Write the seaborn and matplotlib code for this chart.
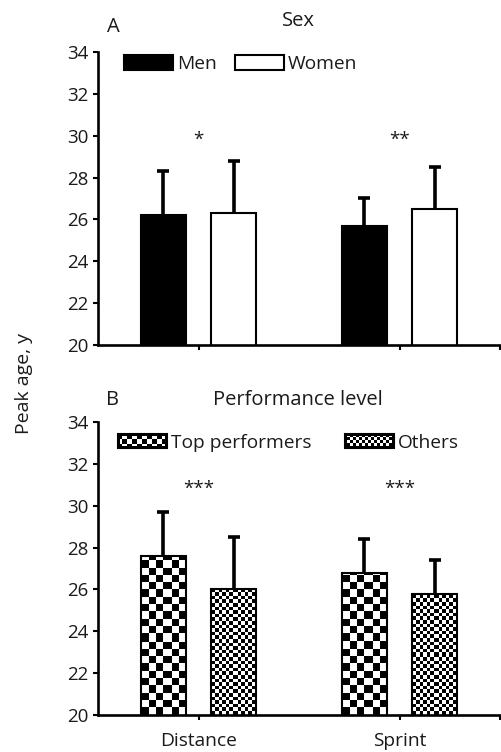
import numpy as np
import pandas as pd
import matplotlib
matplotlib.use("Agg")
import matplotlib.pyplot as plt
from matplotlib.patches import Patch
from matplotlib.container import BarContainer
import seaborn as sns

# ---- data -----------------------------------------------------------------
events = ["Distance", "Sprint"]

men_mean = [26.2, 25.7]
men_sd = [2.1, 1.3]
women_mean = [26.3, 26.5]
women_sd = [2.5, 2.0]

top_mean = [27.6, 26.8]
top_sd = [2.1, 1.6]
others_mean = [26.0, 25.8]
others_sd = [2.5, 1.6]

sex_stars = ["*", "**"]
level_stars = ["***", "***"]

y_ticks = [20, 22, 24, 26, 28, 30, 32, 34]
y_floor = 20

# ---- style ----------------------------------------------------------------
sns.set_style("ticks")
plt.rcParams["font.family"] = ["Open Sans", "DejaVu Sans"]
plt.rcParams["text.color"] = "#1a1a1a"
plt.rcParams["xtick.color"] = "black"
plt.rcParams["ytick.color"] = "black"
plt.rcParams["xtick.labelcolor"] = "#1a1a1a"
plt.rcParams["ytick.labelcolor"] = "#1a1a1a"

FS_TICK = 13.5
FS_LEG = 13.8
FS_TITLE = 14.5

W, H = 501, 752
fig = plt.figure(figsize=(W / 100, H / 100), dpi=100)
fig.patch.set_facecolor("white")

ax_top = fig.add_axes([98 / W, 1 - 345 / H, 402 / W, 293 / H])
ax_bot = fig.add_axes([98 / W, 1 - 715 / H, 402 / W, 293 / H])


def long_frame(groups, means, sds):
    rows = []
    for g, m, s in zip(groups, means, sds):
        for ev, mv, sv in zip(events, m, s):
            rows.append({"event": ev, "group": g, "age": mv, "sd": sv})
    return pd.DataFrame(rows)


def checker(h, w, cell, border=0):
    yy, xx = np.mgrid[0:h, 0:w]
    a = ((np.floor(xx / cell) + np.floor(yy / cell)) % 2).astype(float)
    if border:
        a[:border, :] = 0
        a[-border:, :] = 0
        a[:, :border] = 0
        a[:, -border:] = 0
    return a


def bar_containers(ax):
    return [c for c in ax.containers if isinstance(c, BarContainer)]


def panel(ax, df, groups, palette, stars, star_y, show_labels):
    sns.barplot(data=df, x="event", y="age", hue="group", hue_order=groups,
                order=events, palette=palette, edgecolor="black",
                linewidth=1.5, width=0.7, gap=0.36, errorbar=None,
                legend=False, ax=ax)
    ax.set_xlim(-0.5, 1.5)
    ax.set_ylim(y_floor, 34)
    ax.set_yticks(y_ticks)
    ax.set_xticks([0, 1])
    ax.set_xticks([1.5], minor=True)
    if show_labels:
        ax.set_xticklabels(events)
    else:
        ax.set_xticklabels(["", ""])
    ax.set_xlabel("")
    ax.set_ylabel("")
    for side in ("top", "right"):
        ax.spines[side].set_visible(False)
    for side in ("left", "bottom"):
        ax.spines[side].set_linewidth(1.9)
        ax.spines[side].set_color("black")
    ax.tick_params(axis="y", which="both", direction="out", length=3.6,
                   width=1.5, labelsize=FS_TICK, pad=3.5)
    ax.tick_params(axis="x", which="both", direction="out", length=3.6,
                   width=1.5, labelsize=FS_LEG, pad=9)

    # error bars (upper side only)
    for cont, g in zip(bar_containers(ax), groups):
        sub = df[df["group"] == g].set_index("event").loc[events]
        xs = [b.get_x() + b.get_width() / 2 for b in cont]
        _, caps, _ = ax.errorbar(xs, sub["age"].values,
                                 yerr=[np.zeros(len(xs)), sub["sd"].values],
                                 fmt="none", ecolor="black", elinewidth=2.6,
                                 capsize=4.3, capthick=2.6, zorder=3)
        for c in caps:
            if np.allclose(c.get_ydata(), sub["age"].values):
                c.set_visible(False)

    for i, s in enumerate(stars):
        ax.text(i, star_y, s, ha="center", va="center", fontsize=13.5,
                color="#1a1a1a")


# ---- panel A : sex --------------------------------------------------------
df_sex = long_frame(["Men", "Women"], [men_mean, women_mean],
                    [men_sd, women_sd])
panel(ax_top, df_sex, ["Men", "Women"], {"Men": "black", "Women": "white"},
      sex_stars, 29.8, False)
leg_a = ax_top.legend(
    handles=[Patch(facecolor="black", edgecolor="black", linewidth=1.5),
             Patch(facecolor="white", edgecolor="black", linewidth=1.5)],
    labels=["Men", "Women"], loc="center left",
    bbox_to_anchor=(0.0647, 0.959), ncol=2, frameon=False, fontsize=FS_LEG,
    handlelength=2.55, handleheight=0.78, handletextpad=0.2,
    columnspacing=0.95, borderpad=0, borderaxespad=0)

# ---- panel B : performance level -------------------------------------------
df_lvl = long_frame(["Top performers", "Others"], [top_mean, others_mean],
                    [top_sd, others_sd])
panel(ax_bot, df_lvl, ["Top performers", "Others"],
      {"Top performers": "white", "Others": "white"}, level_stars, 30.8, True)

# checkerboard fills on the visible part of each bar
cells = {0: 7.3, 1: 3.6}
for k, cont in enumerate(bar_containers(ax_bot)):
    for bar in cont:
        x0 = bar.get_x()
        x1 = x0 + bar.get_width()
        y1 = bar.get_y() + bar.get_height()
        y0 = max(bar.get_y(), y_floor)
        (px0, py0), (px1, py1) = ax_bot.transData.transform([(x0, y0), (x1, y1)])
        w_px = max(int(round(px1 - px0)), 1)
        h_px = max(int(round(py1 - py0)), 1)
        arr = checker(h_px, w_px, cells[k])
        bar.set_facecolor("none")
        bar.set_zorder(2)
        ax_bot.imshow(arr, cmap="gray", vmin=0, vmax=1,
                      extent=(x0, x1, y0, y1), origin="lower",
                      interpolation="nearest", aspect="auto", zorder=1.5)
ax_bot.set_xlim(-0.5, 1.5)
ax_bot.set_ylim(y_floor, 34)

leg_b = ax_bot.legend(
    handles=[Patch(facecolor="white", edgecolor="black", linewidth=1.5),
             Patch(facecolor="white", edgecolor="black", linewidth=1.5)],
    labels=["Top performers", "Others"], loc="center left",
    bbox_to_anchor=(0.0498, 0.930), ncol=2, frameon=False, fontsize=FS_LEG,
    handlelength=2.55, handleheight=0.78, handletextpad=0.2,
    columnspacing=1.75, borderpad=0, borderaxespad=0)

# ---- titles and labels ----------------------------------------------------
fig.text(113 / W, 1 - 31.5 / H, "A", ha="center", va="baseline",
         fontsize=FS_TITLE)
fig.text(298 / W, 1 - 26.5 / H, "Sex", ha="center", va="baseline",
         fontsize=FS_TITLE)
fig.text(113 / W, 1 - 405 / H, "B", ha="center", va="baseline",
         fontsize=FS_TITLE)
fig.text(298 / W, 1 - 405 / H, "Performance level", ha="center",
         va="baseline", fontsize=FS_TITLE)
fig.text(24 / W, 1 - 384 / H, "Peak age, y", ha="center", va="center",
         rotation=90, fontsize=14)

# patterned legend keys for panel B
fig.canvas.draw()
renderer = fig.canvas.get_renderer()
for handle, cell in zip(leg_b.legend_handles, (5, 3)):
    bb = handle.get_window_extent(renderer)
    w_px, h_px = int(round(bb.width)) + 2, int(round(bb.height)) + 2
    arr = checker(h_px, w_px, cell, border=3)
    rgb = np.repeat(arr[..., None], 3, axis=2)
    fig.figimage(rgb, xo=int(round(bb.x0)) - 1, yo=int(round(bb.y0)) - 1,
                 origin="lower", zorder=10)

fig.savefig("out.png", dpi=100, facecolor="white")
